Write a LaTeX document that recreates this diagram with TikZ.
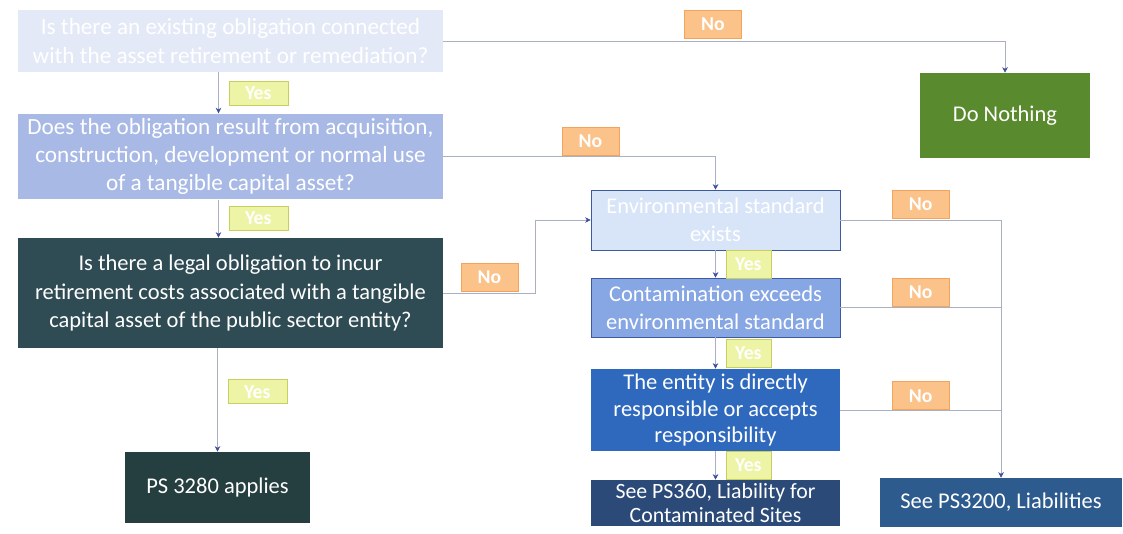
\documentclass[tikz,border=0pt]{standalone}
\usepackage{fontspec}
\setmainfont{Carlito}
\usepackage{tikz}
\usetikzlibrary{shapes.geometric, arrows.meta}
\definecolor{paleq}{HTML}{E4E9F7}
\definecolor{midq}{HTML}{A8B9E6}
\definecolor{darkq}{HTML}{2F4B54}
\definecolor{applies}{HTML}{253E3F}
\definecolor{nothing}{HTML}{5A8A2E}
\definecolor{envfill}{HTML}{D8E4F8}
\definecolor{contfill}{HTML}{86A6E4}
\definecolor{boxline}{HTML}{3E5A9E}
\definecolor{entityfill}{HTML}{2F69BD}
\definecolor{sitesfill}{HTML}{2B4A78}
\definecolor{liabfill}{HTML}{2D5B8E}
\definecolor{yesfill}{HTML}{EEF4A6}
\definecolor{yesline}{HTML}{C9CF5E}
\definecolor{nofill}{HTML}{FBC28A}
\definecolor{noline}{HTML}{F3A35C}
\definecolor{linkgrey}{HTML}{A9B0C4}
\definecolor{tipblue}{HTML}{3F4D9A}
\tikzstyle{question} = [rectangle, minimum width=10.625cm, align=center, text=white, font=\fontsize{16.5}{20}\selectfont]
\tikzstyle{result} = [rectangle, align=center, text=white, font=\fontsize{16}{20}\selectfont]
\tikzstyle{check} = [rectangle, minimum width=6.225cm, align=center, text=white, draw=boxline, font=\fontsize{16}{20}\selectfont]
\tikzstyle{yes} = [rectangle, fill=yesfill, draw=yesline, text=white, minimum width=1.475cm, minimum height=0.6cm, inner sep=0pt, font=\fontsize{14}{14}\selectfont\bfseries]
\tikzstyle{yesnarrow} = [yes, minimum width=1.125cm, minimum height=0.7cm]
\tikzstyle{no} = [rectangle, fill=nofill, draw=noline, text=white, minimum width=1.425cm, minimum height=0.7cm, inner sep=0pt, font=\fontsize{14}{14}\selectfont\bfseries]
\tikzstyle{arrow} = [thin, draw=linkgrey, -{Stealth[length=4pt, width=4pt, color=tipblue]}]
\tikzstyle{link} = [thin, draw=linkgrey]

\begin{document}
\begin{tikzpicture}[x=0.025cm, y=-0.025cm]
        \useasboundingbox (0,0) rectangle (1123,533);
        % left column
        \node (q1) [question, fill=paleq, minimum height=1.55cm] at (230.5,41) {Is there an existing obligation connected\\with the asset retirement or remediation?};
        \node (q2) [question, fill=midq, minimum height=1.925cm] at (230.5,156.5) {Does the obligation result from acquisition,\\construction, development or normal use\\of a tangible capital asset?};
        \node (q3) [question, fill=darkq, minimum height=2.75cm, font=\fontsize{16}{20}\selectfont] at (230.5,293) {Is there a legal obligation to incur\\retirement costs associated with a tangible\\capital asset of the public sector entity?};
        \node (ps3280) [result, fill=applies, minimum width=4.625cm, minimum height=1.775cm] at (217.5,487.5) {PS 3280 applies};
        \node (nothing) [result, fill=nothing, minimum width=4.25cm, minimum height=2.125cm] at (1005,115.5) {Do Nothing};
        % right column
        \node (env) [check, fill=envfill, minimum height=1.5cm] at (715.5,220) {Environmental standard\\exists};
        \node (cont) [check, fill=contfill, minimum height=1.475cm] at (715.5,307.5) {Contamination exceeds\\environmental standard};
        \node (entity) [check, fill=entityfill, draw=none, minimum height=2cm, font=\fontsize{16}{19}\selectfont] at (715.5,410) {The entity is directly\\responsible or accepts\\responsibility};
        \node (ps360) [check, fill=sitesfill, draw=none, minimum height=1.15cm, inner sep=1pt, font=\fontsize{15.5}{17.5}\selectfont] at (715.5,503) {See PS360, Liability for\\Contaminated Sites};
        \node (ps3200) [result, fill=liabfill, minimum width=6.05cm, minimum height=1.225cm] at (1001,502.5) {See PS3200, Liabilities};

        \draw [arrow] ([xshift=-0.3cm]q1.south) -- ([xshift=-0.3cm]q2.north) node[midway, right=0.25cm, yes] {Yes};
        \draw [arrow] ([xshift=-0.3cm]q2.south) -- ([xshift=-0.3cm]q3.north) node[midway, right=0.25cm, yes] {Yes};
        \draw [arrow] (ps3280.north |- q3.south) -- (ps3280.north) node[pos=0.42, right=0.25cm, yes] {Yes};
        \draw [arrow] (q1.east) -| (nothing.north) node[pos=0.24, above=2pt, no] {No};
        \draw [arrow] (q2.east) -| (env.north) node[pos=0.27, above=1pt, no] {No};
        \draw [arrow] (q3.east) -- node[above=1pt, no] {No} ++(92,0) |- (env.west);
        \draw [arrow] (env) -- (cont) node[midway, right=0.25cm, yesnarrow] {Yes};
        \draw [arrow] (cont) -- (entity) node[midway, right=0.25cm, yesnarrow] {Yes};
        \draw [arrow] (entity) -- (ps360) node[midway, right=0.25cm, yesnarrow] {Yes};
        \draw [arrow] (env.east) -| (ps3200.north) node[pos=0.25, above=1pt, no] {No};
        \draw [link] (cont.east) -- (cont.east -| ps3200.north) node[midway, above=1pt, no] {No};
        \draw [link] (entity.east) -- (entity.east -| ps3200.north) node[midway, above=0pt, no] {No};
      \end{tikzpicture}
\end{document}
